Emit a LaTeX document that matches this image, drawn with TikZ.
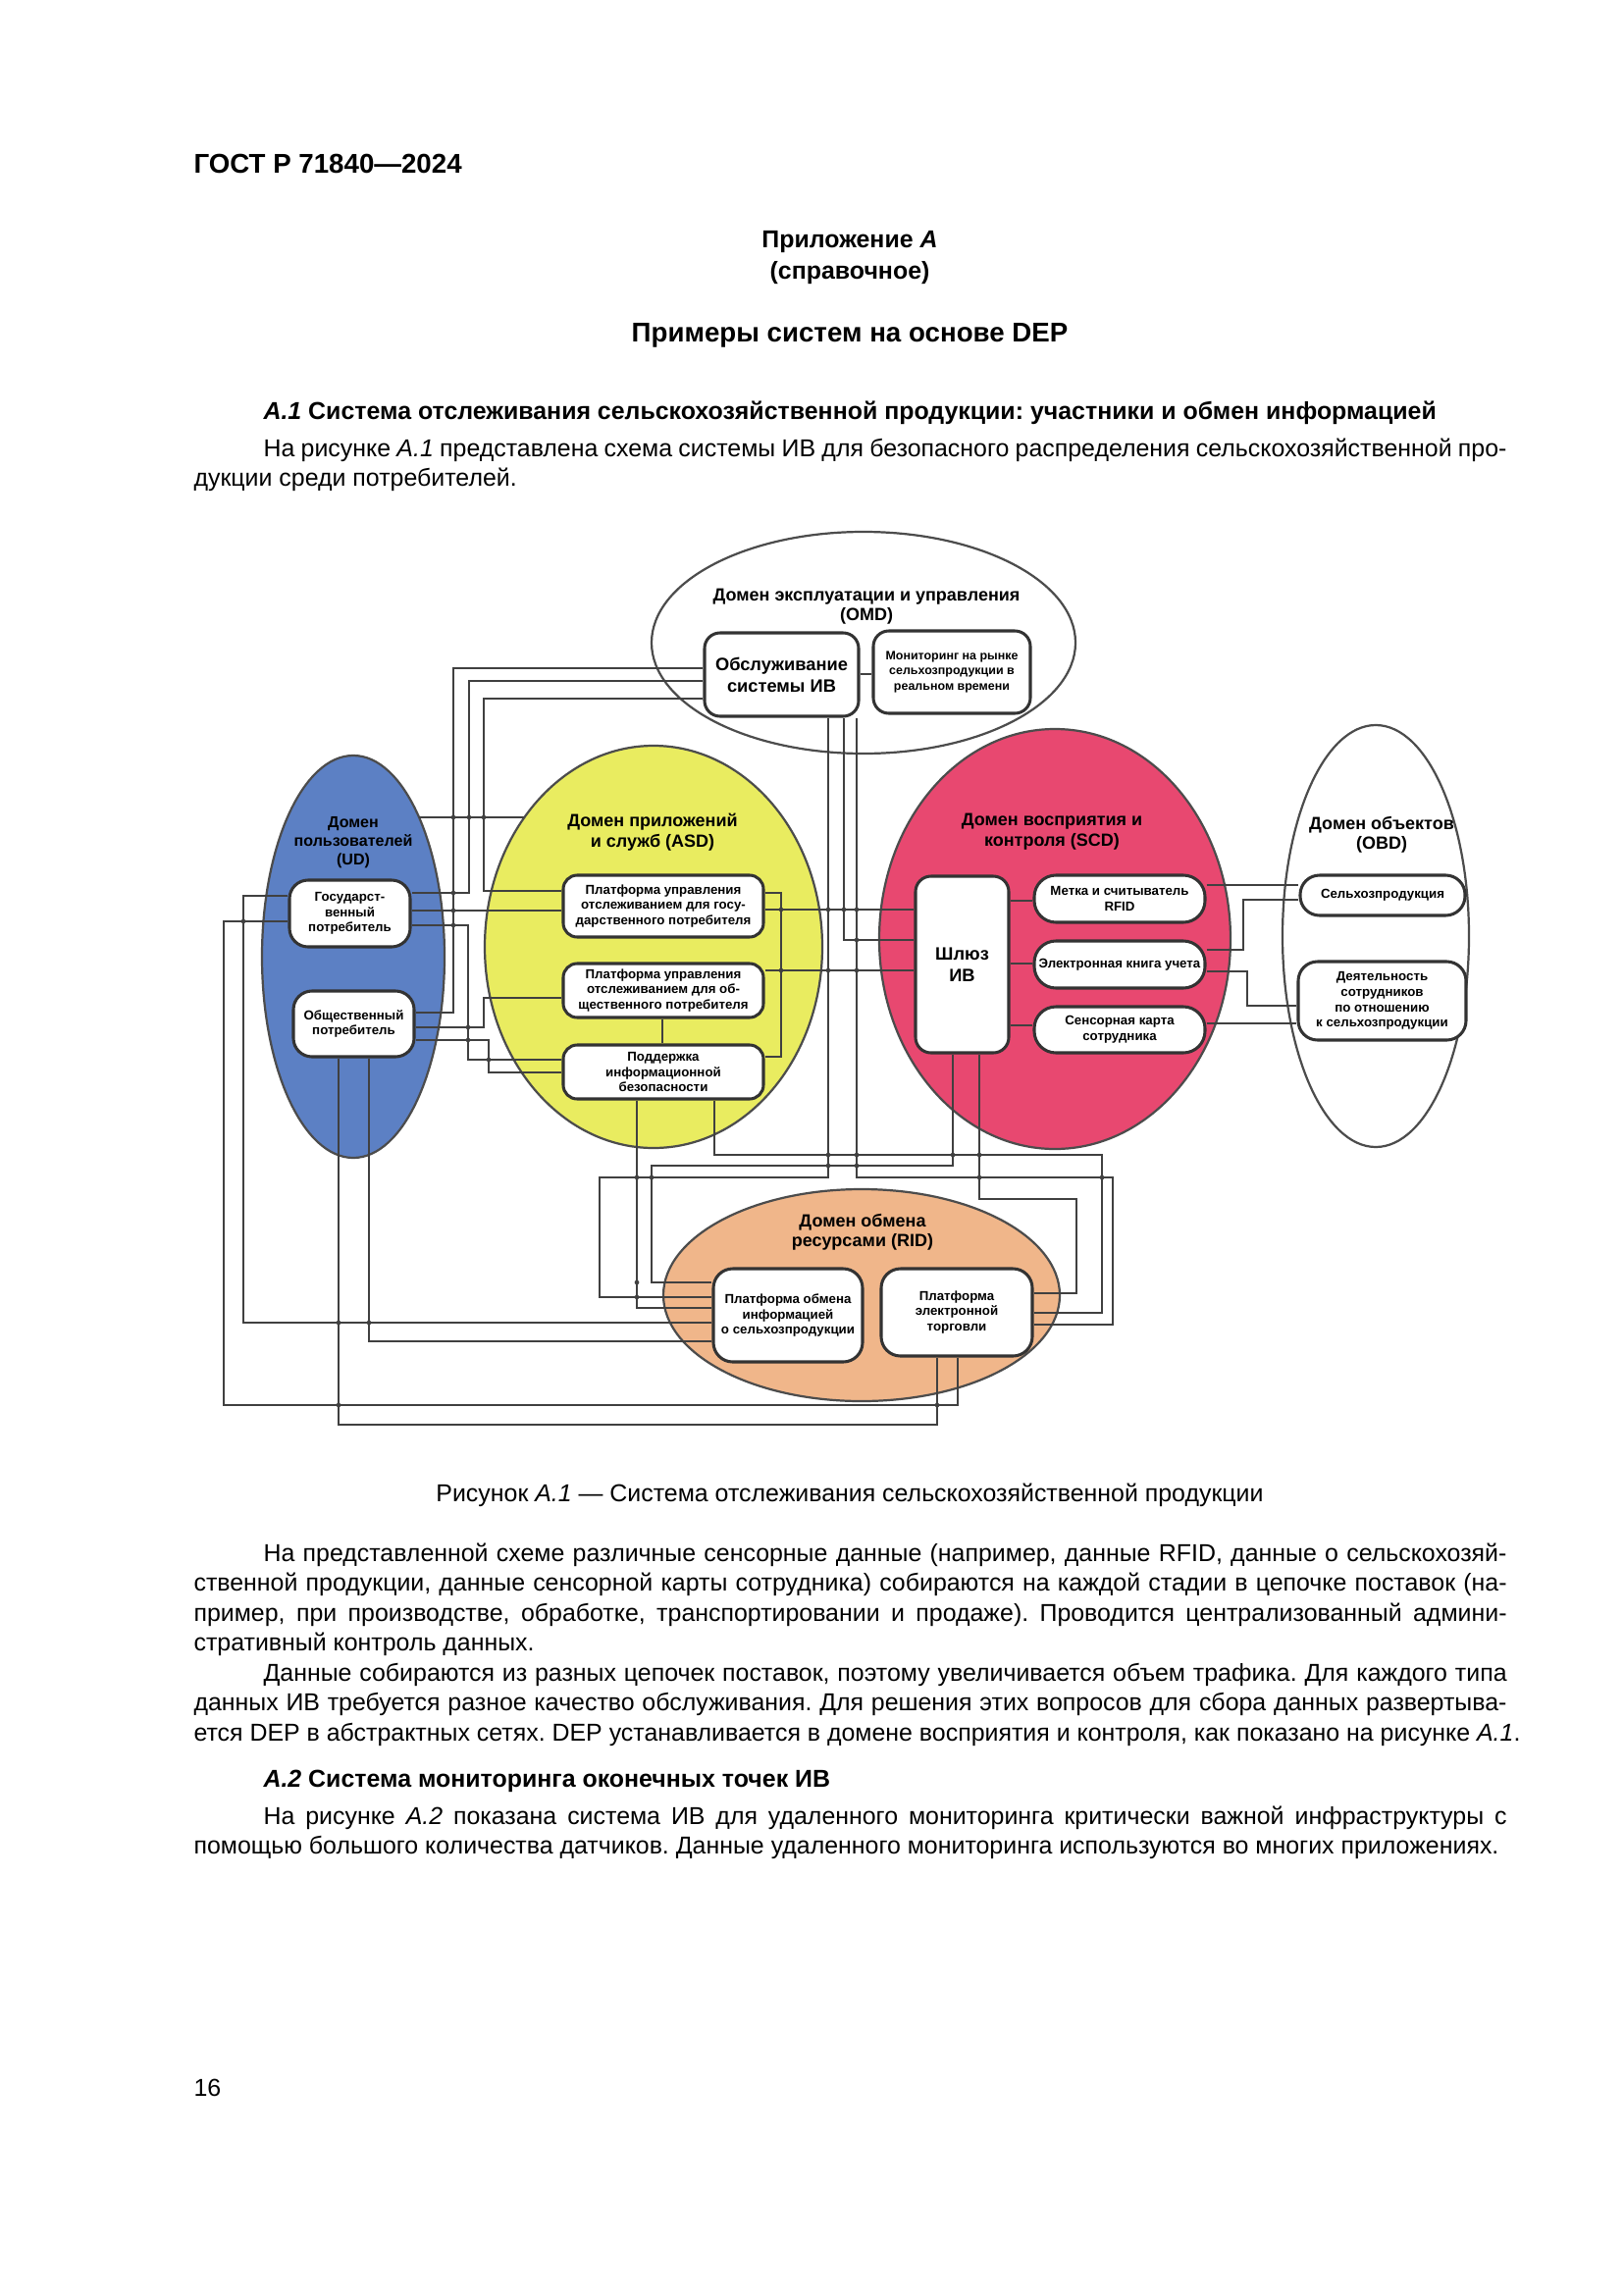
\documentclass[tikz,border=0pt]{standalone}
\usepackage{fontspec}
\setmainfont{Liberation Sans}
\usetikzlibrary{shapes.geometric}
\frenchspacing
\definecolor{udblue}{RGB}{92,128,196}
\definecolor{asdyel}{RGB}{233,236,96}
\definecolor{scdpink}{RGB}{232,72,112}
\definecolor{ridpeach}{RGB}{240,182,138}
\newdimen\ju \ju=0.126965mm
\def\uu{0.126965mm}
\newcommand\bodyf{\fontsize{9}{11}\selectfont}
\newcommand\ttlf{\fontsize{6.5}{7.4}\selectfont\bfseries}
\newcommand\boxf{\fontsize{4.8}{5.7}\selectfont\bfseries}
\newcommand\bigf{\fontsize{6.6}{8}\selectfont\bfseries}
\newcommand\hop[2]{\fill[black!75] (#1,#2) circle[radius=0.85pt];}
\begin{document}
\begin{tikzpicture}[x=0.126965mm,y=-0.126965mm,
  dom/.style={ellipse,draw=black!70,line width=0.8pt,inner sep=0},
  bx/.style={draw=black!80,fill=white,line width=1.1pt,rounded corners=1.8mm,inner sep=0,align=center,font=\boxf},
  ttl/.style={align=center,inner sep=0,font=\ttlf},
  wire/.style={draw=black!75,line width=0.85pt},
  txt/.style={anchor=base west,inner sep=0,font=\bodyf},
  ctxt/.style={anchor=base,inner sep=0,font=\bodyf}]
\useasboundingbox (0,0) rectangle (1654,2339);
\fill[white] (0,0) rectangle (1654,2339);

% ---------- page text ----------
\node[txt,font=\fontsize{10}{12}\selectfont\bfseries] (hdr) at (197,177) {ГОСТ Р 71840—2024};
\node[ctxt,font=\bodyf\bfseries] (app1) at (866,253) {Приложение \textit{А}};
\node[ctxt,font=\bodyf\bfseries] (app2) at (866,284) {(справочное)};
\node[ctxt,font=\fontsize{10}{12}\selectfont\bfseries] (app3) at (866,348) {Примеры систем на основе DEP};
\node[txt,font=\bodyf\bfseries] (h1) at (268,427) {\textit{А.1} Система отслеживания сельскохозяйственной продукции: участники и обмен информацией};
\node[txt] (p1a) at (268,465) {\makebox[1267\ju][s]{На рисунке \textit{А.1} представлена схема системы ИВ для безопасного распределения сельскохозяйственной про-}};
\node[txt] (p1b) at (197,495) {дукции среди потребителей.};

\node[ctxt] (cap) at (866,1530) {Рисунок \textit{А.1} — Система отслеживания сельскохозяйственной продукции};

\node[txt] (p2a) at (268,1591) {\makebox[1267\ju][s]{На представленной схеме различные сенсорные данные (например, данные RFID, данные о сельскохозяй-}};
\node[txt] (p2b) at (197,1621.5) {\makebox[1338\ju][s]{ственной продукции, данные сенсорной карты сотрудника) собираются на каждой стадии в цепочке поставок (на-}};
\node[txt] (p2c) at (197,1652) {\makebox[1338\ju][s]{пример, при производстве, обработке, транспортировании и продаже). Проводится централизованный админи-}};
\node[txt] (p2d) at (197,1682.5) {стративный контроль данных.};
\node[txt] (p3a) at (268,1713) {\makebox[1267\ju][s]{Данные собираются из разных цепочек поставок, поэтому увеличивается объем трафика. Для каждого типа}};
\node[txt] (p3b) at (197,1743.5) {\makebox[1338\ju][s]{данных ИВ требуется разное качество обслуживания. Для решения этих вопросов для сбора данных развертыва-}};
\node[txt] (p3c) at (197,1774) {ется DEP в абстрактных сетях. DEP устанавливается в домене восприятия и контроля, как показано на рисунке \textit{А.1}.};
\node[txt,font=\bodyf\bfseries] (h2) at (268,1821) {\textit{А.2} Система мониторинга оконечных точек ИВ};
\node[txt] (p4a) at (268,1859) {\makebox[1267\ju][s]{На рисунке \textit{А.2} показана система ИВ для удаленного мониторинга критически важной инфраструктуры с}};
\node[txt] (p4b) at (197,1889) {помощью большого количества датчиков. Данные удаленного мониторинга используются во многих приложениях.};
\node[txt] (pg) at (197,2136) {16};

% ---------- domains ----------
\node[dom,fill=white,minimum width=432*\uu,minimum height=226*\uu] (omd) at (880,655) {};
\node[dom,fill=udblue,minimum width=186*\uu,minimum height=410*\uu] (ud) at (360,975) {};
\node[dom,fill=asdyel,minimum width=344*\uu,minimum height=410*\uu] (asd) at (666,965) {};
\node[dom,fill=scdpink,minimum width=358*\uu,minimum height=428*\uu] (scd) at (1075,957) {};
\node[dom,fill=white,minimum width=190*\uu,minimum height=430*\uu] (obd) at (1402,954) {};
\node[dom,fill=ridpeach,minimum width=404*\uu,minimum height=216*\uu] (rid) at (878,1320) {};

\node[ttl] (omdT) at (883,618) {Домен эксплуатации и управления\\(OMD)};
\node[ttl,font=\fontsize{5.8}{6.9}\selectfont\bfseries] (udT) at (360,859) {Домен\\пользователей\\(UD)};
\node[ttl] (asdT) at (665,848) {Домен приложений\\и служб (ASD)};
\node[ttl] (scdT) at (1072,847.5) {Домен восприятия и\\контроля (SCD)};
\node[ttl] (obdT) at (1408,851) {Домен объектов\\(OBD)};
\node[ttl] (ridT) at (879,1256) {Домен обмена\\ресурсами (RID)};

% ---------- boxes ----------
\node[bx,font=\bigf,rounded corners=2mm,minimum width=157*\uu,minimum height=85*\uu] (obs) at (796.5,687.5) {Обслуживание\\системы ИВ};
\node[bx,font=\fontsize{4.5}{5.6}\selectfont\bfseries,rounded corners=2mm,minimum width=160*\uu,minimum height=84*\uu] (mon) at (970,685) {Мониторинг на рынке\\сельхозпродукции в\\реальном времени};

\node[bx,rounded corners=2.4mm,minimum width=123*\uu,minimum height=68*\uu] (gos) at (356.5,931) {Государст-\\венный\\потребитель};
\node[bx,rounded corners=2.4mm,minimum width=123*\uu,minimum height=67*\uu] (obsch) at (360.5,1043.5) {Общественный\\потребитель};

\node[bx,minimum width=204*\uu,minimum height=63*\uu] (a1) at (676,923.5) {Платформа управления\\отслеживанием для госу-\\дарственного потребителя};
\node[bx,minimum width=204*\uu,minimum height=55*\uu] (a2) at (676,1009.5) {Платформа управления\\отслеживанием для об-\\щественного потребителя};
\node[bx,minimum width=204*\uu,minimum height=55*\uu] (a3) at (676,1092.5) {Поддержка\\информационной\\безопасности};

\node[bx,font=\bigf,rounded corners=2mm,minimum width=95*\uu,minimum height=180*\uu] (gw) at (980.5,983) {Шлюз\\ИВ};
\node[bx,rounded corners=2.8mm,minimum width=174*\uu,minimum height=48*\uu] (rfid) at (1141,916) {Метка и считыватель\\RFID};
\node[bx,rounded corners=2.8mm,minimum width=174*\uu,minimum height=48*\uu] (book) at (1141,983) {Электронная книга учета};
\node[bx,rounded corners=2.8mm,minimum width=174*\uu,minimum height=47*\uu] (card) at (1141,1049.5) {Сенсорная карта\\сотрудника};

\node[bx,rounded corners=2.5mm,minimum width=168*\uu,minimum height=41*\uu] (prod) at (1409,912.5) {Сельхозпродукция};
\node[bx,rounded corners=2.5mm,minimum width=171*\uu,minimum height=80*\uu] (act) at (1408.5,1020) {Деятельность\\сотрудников\\по отношению\\к сельхозпродукции};

\node[bx,rounded corners=2.5mm,minimum width=152*\uu,minimum height=95*\uu] (info) at (803,1340.5) {Платформа обмена\\информацией\\о сельхозпродукции};
\node[bx,rounded corners=2.5mm,minimum width=154*\uu,minimum height=89*\uu] (ecom) at (975,1337.5) {Платформа\\электронной\\торговли};

% ---------- connectors ----------
\coordinate (udr) at (427,833);
\coordinate (asdl) at (534,833);
\draw[wire] (udr) -- (asdl);

\draw[wire] (obs.west |- 0,681) -- (462,681) -- (462,1032) -- (obsch.east |- 0,1032);
\draw[wire] (obs.west |- 0,694) -- (478,694) -- (478,910) -- (gos.east |- 0,910);
\draw[wire] (obs.west |- 0,712) -- (493,712) -- (493,908) -- (a1.west |- 0,908);
\draw[wire] (obs.east |- 0,687) -- (mon.west |- 0,687);

\draw[wire] (gos.east |- 0,928) -- (a1.west |- 0,928);
\draw[wire] (gos.east |- 0,943) -- (477,943) -- (477,1080) -- (a3.west |- 0,1080);
\draw[wire] (obsch.east |- 0,1047) -- (493,1047) -- (493,1017) -- (a2.west |- 0,1017);
\draw[wire] (obsch.east |- 0,1060) -- (498,1060) -- (498,1093) -- (a3.west |- 0,1093);

\draw[wire] (gos.west |- 0,913) -- (248,913) -- (248,1348) -- (info.west |- 0,1348);
\draw[wire] (gos.west |- 0,939) -- (228,939) -- (228,1432) -- (976,1432) -- (ecom.south -| 976,0);
\draw[wire] (obsch.south -| 345,0) -- (345,1452) -- (955,1452) -- (ecom.south -| 955,0);
\draw[wire] (obsch.south -| 376,0) -- (376,1367) -- (info.west |- 0,1367);

\draw[wire] (a1.east |- 0,927) -- (gw.west |- 0,927);
\draw[wire] (a1.east |- 0,910) -- (796,910) -- (796,1077) -- (a3.east |- 0,1077);
\draw[wire] (a2.east |- 0,989) -- (gw.west |- 0,989);
\draw[wire] (a2.south -| 675,0) -- (a3.north -| 675,0);

\draw[wire] (obs.south -| 860,0) -- (860,958) -- (gw.west |- 0,958);
\draw[wire] (obs.south -| 844,0) -- (844,1200) -- (611,1200) -- (611,1322) -- (info.west |- 0,1322);
\draw[wire] (obs.south -| 873,0) -- (873,1200) -- (1134,1200) -- (1134,1350) -- (ecom.east |- 0,1350);

\draw[wire] (a3.south -| 649,0) -- (649,1333) -- (info.west |- 0,1333);
\draw[wire] (a3.south -| 728,0) -- (728,1177) -- (1123,1177) -- (1123,1338) -- (ecom.east |- 0,1338);
\draw[wire] (gw.south -| 971,0) -- (971,1188) -- (664,1188) -- (664,1307) -- (info.west |- 0,1307);
\draw[wire] (gw.south -| 998,0) -- (998,1222) -- (1097,1222) -- (1097,1318) -- (ecom.east |- 0,1318);

\draw[wire] (gw.east |- 0,918) -- (rfid.west |- 0,918);
\draw[wire] (gw.east |- 0,982) -- (book.west |- 0,982);
\draw[wire] (gw.east |- 0,1045) -- (card.west |- 0,1045);

\draw[wire] (rfid.east |- 0,902) -- (prod.west |- 0,902);
\draw[wire] (book.east |- 0,968) -- (1267,968) -- (1267,917) -- (prod.west |- 0,917);
\draw[wire] (book.east |- 0,990) -- (1271,990) -- (1271,1025) -- (act.west |- 0,1025);
\draw[wire] (card.east |- 0,1043) -- (act.west |- 0,1043);

% crossing marks
\hop{462}{833}\hop{478}{833}\hop{493}{833}
\hop{462}{910}\hop{462}{928}\hop{462}{943}\hop{248}{939}
\hop{477}{1047}\hop{477}{1060}\hop{498}{1080}
\hop{345}{1348}\hop{376}{1348}\hop{345}{1432}\hop{955}{1432}
\hop{649}{1322}\hop{649}{1307}\hop{649}{1200}\hop{664}{1200}
\hop{844}{1188}\hop{873}{1188}
\hop{844}{1177}\hop{873}{1177}\hop{971}{1177}\hop{998}{1177}
\hop{998}{1200}\hop{1123}{1200}
\hop{796}{927}\hop{844}{927}\hop{860}{927}\hop{873}{927}
\hop{873}{958}\hop{796}{989}\hop{844}{989}\hop{873}{989}
\end{tikzpicture}
\end{document}
